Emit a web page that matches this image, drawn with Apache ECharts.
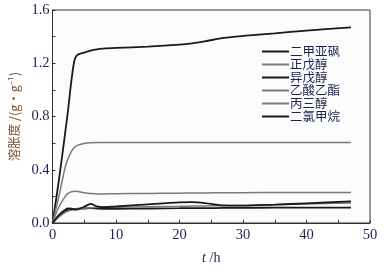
<!DOCTYPE html>
<html>
<head>
<meta charset="utf-8">
<script src="https://cdn.jsdelivr.net/npm/echarts@6/dist/echarts.min.js"></script>
<style>
  html, body { margin: 0; padding: 0; background: #fff; }
  #chart { width: 385px; height: 270px; }
</style>
</head>
<body>
<div id="chart"></div>
<script>
// time, h
var times = [0, 1, 2, 2.5, 3, 3.5, 4, 5, 6, 7, 8, 10, 15, 20, 22, 24, 27, 30, 35, 40, 47];

var dmso      = [0, 0.32, 0.68, 0.87, 1.08, 1.23, 1.265, 1.28, 1.295, 1.305, 1.31, 1.315, 1.325, 1.34, 1.35, 1.365, 1.39, 1.405, 1.425, 1.445, 1.47];
var pentanol  = [0, 0.2, 0.42, 0.49, 0.54, 0.57, 0.585, 0.597, 0.603, 0.605, 0.605, 0.605, 0.605, 0.605, 0.605, 0.605, 0.605, 0.605, 0.605, 0.605, 0.605];
var isoamyl   = [0, 0.05, 0.09, 0.1, 0.104, 0.106, 0.107, 0.109, 0.111, 0.109, 0.107, 0.107, 0.109, 0.111, 0.112, 0.112, 0.113, 0.114, 0.115, 0.115, 0.116];
var etAcetate = [0, 0.12, 0.2, 0.225, 0.235, 0.238, 0.236, 0.228, 0.222, 0.218, 0.218, 0.22, 0.222, 0.224, 0.225, 0.226, 0.227, 0.228, 0.229, 0.23, 0.23];
var glycerol  = [0, 0.045, 0.08, 0.09, 0.098, 0.103, 0.106, 0.111, 0.115, 0.118, 0.119, 0.12, 0.122, 0.125, 0.127, 0.128, 0.13, 0.132, 0.137, 0.143, 0.15];
var dcm       = [0, 0.06, 0.1, 0.11, 0.107, 0.1, 0.103, 0.122, 0.143, 0.125, 0.12, 0.124, 0.14, 0.155, 0.157, 0.15, 0.132, 0.13, 0.138, 0.148, 0.162];

var names = ['二甲亚砜', '正戊醇', '异戊醇', '乙酸乙酯', '丙三醇', '二氯甲烷'];
var values = [dmso, pentanol, isoamyl, etAcetate, glycerol, dcm];
var colors = ['#1a1a1a', '#7a7a7a', '#1a1a1a', '#7a7a7a', '#7a7a7a', '#1a1a1a'];

function pairs(arr) {
  return times.map(function (t, i) { return [t, arr[i]]; });
}

var numFont = '"Liberation Serif", "DejaVu Serif", serif';
var labelColor = '#1c2350';

var chart = echarts.init(document.getElementById('chart'));
chart.setOption({
  animation: false,
  grid: { left: 49, right: 15, top: 10, bottom: 44, show: true, borderColor: '#333', borderWidth: 1, backgroundColor: '#fcfcfc' },
  legend: {
    orient: 'vertical',
    left: 257,
    top: 40,
    icon: 'rect',
    itemWidth: 27,
    itemHeight: 2,
    itemGap: 0,
    data: names,
    textStyle: { fontFamily: '"Noto Sans CJK SC"', fontSize: 12.5, lineHeight: 13, color: labelColor, padding: [0, 0, 0, -4] }
  },
  xAxis: {
    type: 'value',
    min: 0, max: 50, interval: 10,
    name: '{i|t} /h',
    nameLocation: 'middle',
    nameGap: 28,
    nameTextStyle: { fontFamily: numFont, fontSize: 14, color: labelColor, rich: { i: { fontFamily: numFont, fontStyle: 'italic', fontSize: 14, color: labelColor } } },
    axisLine: { lineStyle: { color: '#333' } },
    axisTick: { inside: true, length: 3, lineStyle: { color: '#333' } },
    minorTick: { show: true, splitNumber: 2, length: 3, lineStyle: { color: '#333' } },
    axisLabel: { fontFamily: numFont, fontSize: 14.5, color: labelColor, margin: 5 },
    splitLine: { show: false }
  },
  yAxis: {
    type: 'value',
    min: 0, max: 1.6, interval: 0.4,
    name: '溶胀度 /(g·g⁻¹)',
    nameLocation: 'middle',
    nameGap: 31,
    nameTextStyle: { fontFamily: '"Noto Sans CJK SC"', fontSize: 12.5, color: '#7a5030' },
    axisLine: { lineStyle: { color: '#333' } },
    axisTick: { inside: true, length: 3, lineStyle: { color: '#333' } },
    minorTick: { show: true, splitNumber: 2, length: 3, lineStyle: { color: '#333' } },
    axisLabel: { fontFamily: numFont, fontSize: 14.5, color: labelColor, margin: 3, formatter: function (v) { return v.toFixed(1); } },
    splitLine: { show: false }
  },
  series: names.map(function (n, i) {
    return {
      name: n,
      type: 'line',
      data: pairs(values[i]),
      smooth: 0.3,
      symbol: 'none',
      itemStyle: { color: colors[i] },
      lineStyle: { color: colors[i], width: colors[i] === '#1a1a1a' ? 1.8 : 1.5 }
    };
  })
});
</script>
</body>
</html>
